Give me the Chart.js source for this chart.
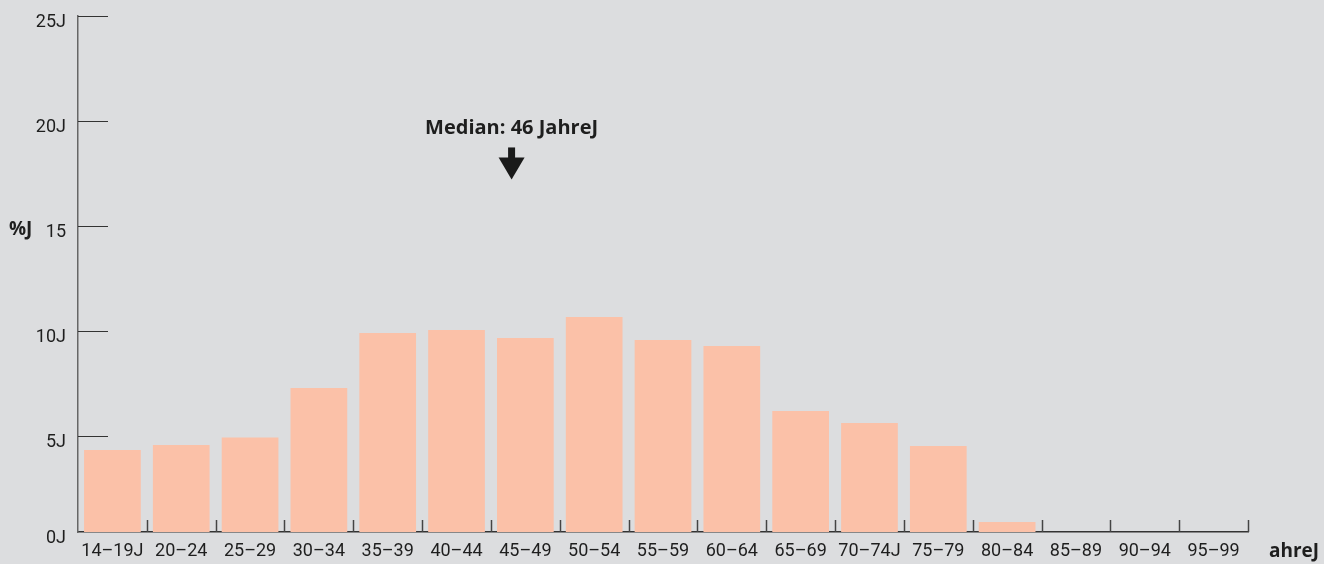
<!DOCTYPE html>
<html>
<head>
<meta charset="utf-8">
<script src="https://cdn.jsdelivr.net/npm/chart.js@4/dist/chart.umd.min.js"></script>
<style>
  html, body { margin: 0; padding: 0; background: #dcdddf; }
  #wrap { width: 1324px; height: 564px; }
</style>
</head>
<body>
<div id="wrap"><canvas id="ageChart" width="1324" height="564"></canvas></div>
<script>
// Altersverteilung (Anteil in %)
const ageGroups = ['14–19J', '20–24', '25–29', '30–34', '35–39', '40–44', '45–49', '50–54',
  '55–59', '60–64', '65–69', '70–74J', '75–79', '80–84', '85–89', '90–94', '95–99'];
const shares = [4.35, 4.59, 4.95, 7.30, 9.92, 10.06, 9.68, 10.68,
  9.58, 9.30, 6.21, 5.64, 4.54, 0.93, 0, 0, 0];

const yTickValues = [0, 5, 10, 15, 20, 25];
const yTickLabels = ['0J', '5J', '10J', '15', '20J', '25J'];
const yFloor = 0.45;   // axis line sits a little above zero
const yTop = 25;

const yAxisTitle = '%J';
const xAxisTitle = 'ahreJ';
const medianLabel = 'Median: 46 JahreJ';
const medianPos = 5.8;     // in category units
const medianLabelY = 19.65;

const textColor = '#1e1e1e';
const barColor = '#fbc1a8';
const font = 'Roboto, "Open Sans", sans-serif';
const boldFont = '"Open Sans", Roboto, sans-serif';

// tick marks drawn inward (up from x axis, right from y axis) + annotations
const decoPlugin = {
  id: 'deco',
  afterDraw(chart) {
    const { ctx, chartArea: area, scales: { x, y } } = chart;
    ctx.save();
    // x ticks at category boundaries
    ctx.strokeStyle = '#444';
    ctx.lineWidth = 1.5;
    for (let i = 0; i < ageGroups.length; i++) {
      const px = i < ageGroups.length - 1
        ? (x.getPixelForValue(i) + x.getPixelForValue(i + 1)) / 2
        : area.right - 0.5;
      ctx.beginPath();
      ctx.moveTo(Math.round(px) + 0.5, area.bottom);
      ctx.lineTo(Math.round(px) + 0.5, area.bottom - 12);
      ctx.stroke();
    }
    // y ticks
    ctx.strokeStyle = '#333';
    ctx.lineWidth = 1;
    yTickValues.forEach(v => {
      if (v <= yFloor) return;
      const py = Math.round(y.getPixelForValue(v)) + 0.5;
      ctx.beginPath();
      ctx.moveTo(area.left, py);
      ctx.lineTo(area.left + 30, py);
      ctx.stroke();
    });

    // axis titles
    ctx.fillStyle = textColor;
    ctx.font = 'bold 19px ' + boldFont;
    ctx.textBaseline = 'middle';
    ctx.textAlign = 'left';
    ctx.fillText(yAxisTitle, 9, y.getPixelForValue(15) + 3);
    ctx.fillText(xAxisTitle, 1269, 552);

    // median annotation
    const mx = x.getPixelForValue(medianPos);
    const my = y.getPixelForValue(medianLabelY);
    ctx.textAlign = 'center';
    ctx.font = 'bold 20px ' + boldFont;
    ctx.fillText(medianLabel, mx, my);
    ctx.fillStyle = '#1a1a1a';
    ctx.fillRect(mx - 3.5, my + 19, 7, 11);
    ctx.beginPath();
    ctx.moveTo(mx - 13, my + 29);
    ctx.lineTo(mx + 13, my + 29);
    ctx.lineTo(mx, my + 51);
    ctx.closePath();
    ctx.fill();
    ctx.restore();
  }
};

new Chart(document.getElementById('ageChart'), {
  type: 'bar',
  data: {
    labels: ageGroups,
    datasets: [{
      data: shares,
      backgroundColor: barColor,
      borderWidth: 0,
      barPercentage: 0.824,
      categoryPercentage: 1.0
    }]
  },
  options: {
    responsive: false,
    animation: false,
    layout: { padding: { top: 16, right: 76, left: 0, bottom: 0 } },
    plugins: { legend: { display: false }, tooltip: { enabled: false } },
    scales: {
      x: {
        grid: { display: false, drawTicks: false },
        border: { display: true, color: '#333', width: 1.5 },
        ticks: { color: textColor, font: { family: font, size: 18 }, padding: 9, maxRotation: 0, autoSkip: false },
        afterFit(s) { s.height = 32; s.paddingLeft = 0; s.paddingRight = 0; }
      },
      y: {
        min: yFloor,
        max: yTop,
        grid: { display: false, drawTicks: false },
        border: { display: true, color: '#666', width: 1.5 },
        afterBuildTicks(s) {
          s.ticks = yTickValues.map(v => ({ value: Math.max(v, yFloor) }));
        },
        ticks: {
          color: textColor,
          font: { family: font, size: 18 },
          padding: 12,
          labelOffset: 6,
          callback: (val, idx) => yTickLabels[idx]
        },
        afterFit(s) { s.width = 78; s.paddingTop = 0; s.paddingBottom = 0; }
      }
    }
  },
  plugins: [decoPlugin]
});
</script>
</body>
</html>
